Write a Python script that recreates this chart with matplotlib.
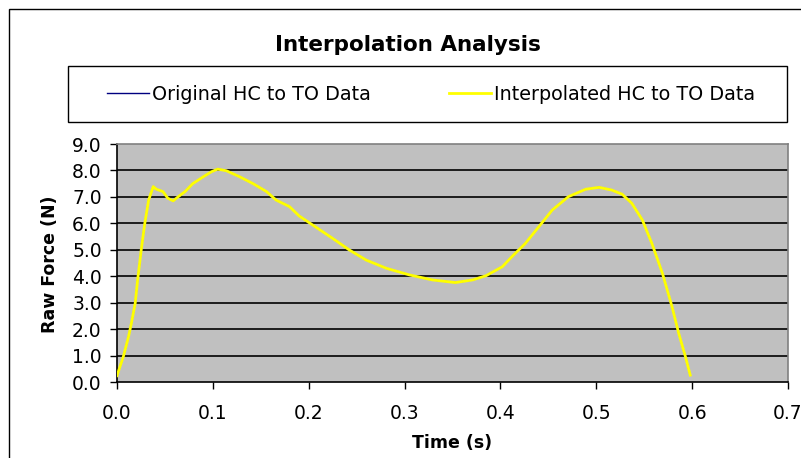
import numpy as np
import matplotlib.pyplot as plt
from matplotlib.lines import Line2D
from matplotlib.patches import Rectangle

plt.rcParams['font.family'] = ['DejaVu Sans']

#### ========== Data ==========

time_s = [0.000, 0.0066, 0.012, 0.015, 0.019, 0.0215, 0.0257, 0.029, 0.033,
          0.0378, 0.041, 0.048, 0.053, 0.0586, 0.064, 0.071, 0.079, 0.090,
          0.0985, 0.105, 0.114, 0.128, 0.142, 0.156, 0.166, 0.180, 0.190,
          0.204, 0.225, 0.2425, 0.260, 0.281, 0.305, 0.329, 0.353, 0.371,
          0.385, 0.402, 0.412, 0.426, 0.440, 0.454, 0.471, 0.489, 0.503,
          0.516, 0.527, 0.537, 0.548, 0.558, 0.569, 0.579, 0.586, 0.593, 0.598]

original_force = [0.24, 0.96, 1.71, 2.22, 2.98, 3.86, 5.12, 6.00, 6.88,
                  7.39, 7.29, 7.20, 6.95, 6.85, 7.01, 7.20, 7.50, 7.76,
                  7.95, 8.05, 7.99, 7.76, 7.50, 7.20, 6.88, 6.63, 6.28,
                  5.94, 5.43, 4.99, 4.61, 4.30, 4.05, 3.86, 3.76, 3.86,
                  4.02, 4.36, 4.74, 5.24, 5.87, 6.50, 7.01, 7.29, 7.36,
                  7.26, 7.10, 6.76, 6.13, 5.24, 4.11, 2.85, 1.84, 0.96, 0.26]

interpolated_force = [0.24, 0.96, 1.71, 2.22, 2.98, 3.86, 5.12, 6.00, 6.88,
                      7.39, 7.29, 7.20, 6.95, 6.85, 7.01, 7.20, 7.50, 7.76,
                      7.95, 8.05, 7.99, 7.76, 7.50, 7.20, 6.88, 6.63, 6.28,
                      5.94, 5.43, 4.99, 4.61, 4.30, 4.05, 3.86, 3.76, 3.86,
                      4.02, 4.36, 4.74, 5.24, 5.87, 6.50, 7.01, 7.29, 7.36,
                      7.26, 7.10, 6.76, 6.13, 5.24, 4.11, 2.85, 1.84, 0.96, 0.26]

labels = [ 'Original HC to TO Data', 'Interpolated HC to TO Data' ]

xticks = [ 0.0, 0.1, 0.2, 0.3, 0.4, 0.5, 0.6, 0.7 ]
yticks = [ 0.0, 1.0, 2.0, 3.0, 4.0, 5.0, 6.0, 7.0, 8.0, 9.0 ]

#### ========== Plot ==========

W, H = 801.0, 458.0
fig = plt.figure( figsize = ( W / 100, H / 100 ), dpi = 100 )

ax = fig.add_axes( [ 117 / W, 76 / H, 671 / W, 238 / H ] )
ax.set_facecolor( '#C0C0C0' )

ax.plot( time_s, original_force, color = '#000080', lw = 1.0, zorder = 3 )
ax.plot( time_s, interpolated_force, color = '#FFFF00', lw = 2.0, zorder = 4 )

ax.set_xlim( 0.0, 0.7 )
ax.set_ylim( 0.0, 9.0 )
ax.set_xticks( xticks )
ax.set_yticks( yticks )
ax.set_xticklabels( [ '{:.1f}'.format( v ) for v in xticks ] )
ax.set_yticklabels( [ '{:.1f}'.format( v ) for v in yticks ] )

for y in yticks[1:-1]:
    ax.axhline( y, color = 'black', lw = 1.2, zorder = 1 )

ax.tick_params( direction = 'out', length = 5, width = 1, colors = 'black',
                labelsize = 13.5 )
ax.tick_params( axis = 'x', pad = 11 )
ax.tick_params( axis = 'y', pad = 6 )

for s in [ 'left', 'bottom' ]:
    ax.spines[s].set_color( 'black' )
    ax.spines[s].set_linewidth( 1.2 )
for s in [ 'top', 'right' ]:
    ax.spines[s].set_color( '#808080' )
    ax.spines[s].set_linewidth( 1.2 )

fig.text( 408 / W, 1 - 45 / H, 'Interpolation Analysis', ha = 'center',
          va = 'center', fontsize = 15.5, fontweight = 'bold' )
fig.text( 452 / W, 1 - 443 / H, 'Time (s)', ha = 'center', va = 'center',
          fontsize = 12.5, fontweight = 'bold' )
fig.text( 50 / W, 1 - 264 / H, 'Raw Force (N)', ha = 'center', va = 'center',
          rotation = 90, fontsize = 12.5, fontweight = 'bold' )

handles = [ Line2D( [], [], color = '#000080', lw = 1.0 ),
            Line2D( [], [], color = '#FFFF00', lw = 2.0 ) ]
fig.legend( handles, labels, loc = 'center', ncol = 2, frameon = False,
            bbox_to_anchor = ( 431 / W, 1 - 94 / H ), fontsize = 13.8,
            handlelength = 2.2, handletextpad = 0.15, columnspacing = 4.1 )

fig.add_artist( Rectangle( ( 68 / W, 1 - 122 / H ), 719 / W, 56 / H,
                           transform = fig.transFigure, fill = False,
                           ec = 'black', lw = 1.0 ) )
fig.add_artist( Rectangle( ( 9 / W, -0.1 ), 1.2, 1.1 - 9 / H,
                           transform = fig.transFigure, fill = False,
                           ec = 'black', lw = 1.0, clip_on = False ) )

plt.savefig( 'out.png', dpi = 100 )
plt.close()
